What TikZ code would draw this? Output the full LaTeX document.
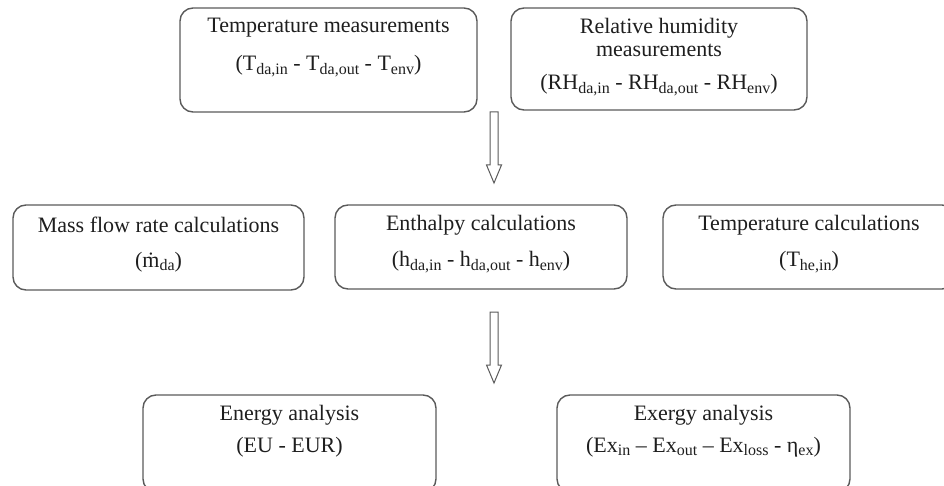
\documentclass[tikz,border=0pt]{standalone}
\usepackage{fontspec}
\setmainfont{Liberation Serif}
\usetikzlibrary{calc}
\definecolor{boxline}{HTML}{5A5A5A}
\definecolor{txt}{HTML}{1E1E1E}
\newcommand{\sbs}[1]{\raisebox{-3.5pt}{\fontsize{16}{16}\selectfont #1}}
\tikzset{
  box/.style={draw=boxline, line width=1.4pt, rounded corners=13pt, minimum width=#1, inner sep=0pt},
  lbl/.style={text=txt, font=\fontsize{22}{25}\selectfont, inner sep=0pt, align=center},
  blockarrow/.style={draw=boxline, line width=1pt, fill=white, line join=miter}
}
\begin{document}
\begin{tikzpicture}[x=1pt,y=-1pt]
\useasboundingbox (0,0) rectangle (944,486);
\clip (0,0) rectangle (944,486);
% boxes
\node[box=297pt, minimum height=104pt] (b1) at (328.5,60) {};
\node[box=296pt, minimum height=102pt] (b2) at (659,59) {};
\node[box=291pt, minimum height=85pt] (b3) at (158.5,247.5) {};
\node[box=292pt, minimum height=84pt] (b4) at (481,247) {};
\node[box=292pt, minimum height=84pt] (b5) at (809,247) {};
\node[box=293pt, minimum height=97pt] (b6) at (289.5,443.5) {};
\node[box=293pt, minimum height=97pt] (b7) at (703.5,443.5) {};
% labels
\node[lbl] (t1a) at (328.5,28) {Temperature measurements};
\node[lbl] (t1b) at (328.5,66) {(T\sbs{da,in} - T\sbs{da,out} - T\sbs{env})};
\node[lbl] (t2a) at (659,28) {Relative humidity};
\node[lbl] (t2b) at (659,50) {measurements};
\node[lbl] (t2c) at (659,85) {(RH\sbs{da,in} - RH\sbs{da,out} - RH\sbs{env})};
\node[lbl] (t3a) at (158.5,225) {Mass flow rate calculations};
\node[lbl] (t3b) at (158.5,262) {(ṁ\sbs{da})};
\node[lbl] (t4a) at (481,225) {Enthalpy calculations};
\node[lbl] (t4b) at (481,262) {(h\sbs{da,in} - h\sbs{da,out} - h\sbs{env})};
\node[lbl] (t5a) at (809,225) {Temperature calculations};
\node[lbl] (t5b) at (809,262) {(T\sbs{he,in})};
\node[lbl] (t6a) at (289.5,415) {Energy analysis};
\node[lbl] (t6b) at (289.5,447) {(EU - EUR)};
\node[lbl] (t7a) at (703.5,415) {Exergy analysis};
\node[lbl] (t7b) at (703.5,447) {(Ex\sbs{in} – Ex\sbs{out} – Ex\sbs{loss} - η\sbs{ex})};
% block arrows
\coordinate (a1) at (494,112);
\coordinate (a2) at (494,312);
\foreach \a in {a1,a2}{
  \draw[blockarrow] ($(\a)+(-4,0)$) -- ($(\a)+(4,0)$) -- ($(\a)+(4,53)$) -- ($(\a)+(7.5,53)$)
    -- ($(\a)+(0,71)$) -- ($(\a)+(-7.5,53)$) -- ($(\a)+(-4,53)$) -- cycle;
}
\end{tikzpicture}
\end{document}
